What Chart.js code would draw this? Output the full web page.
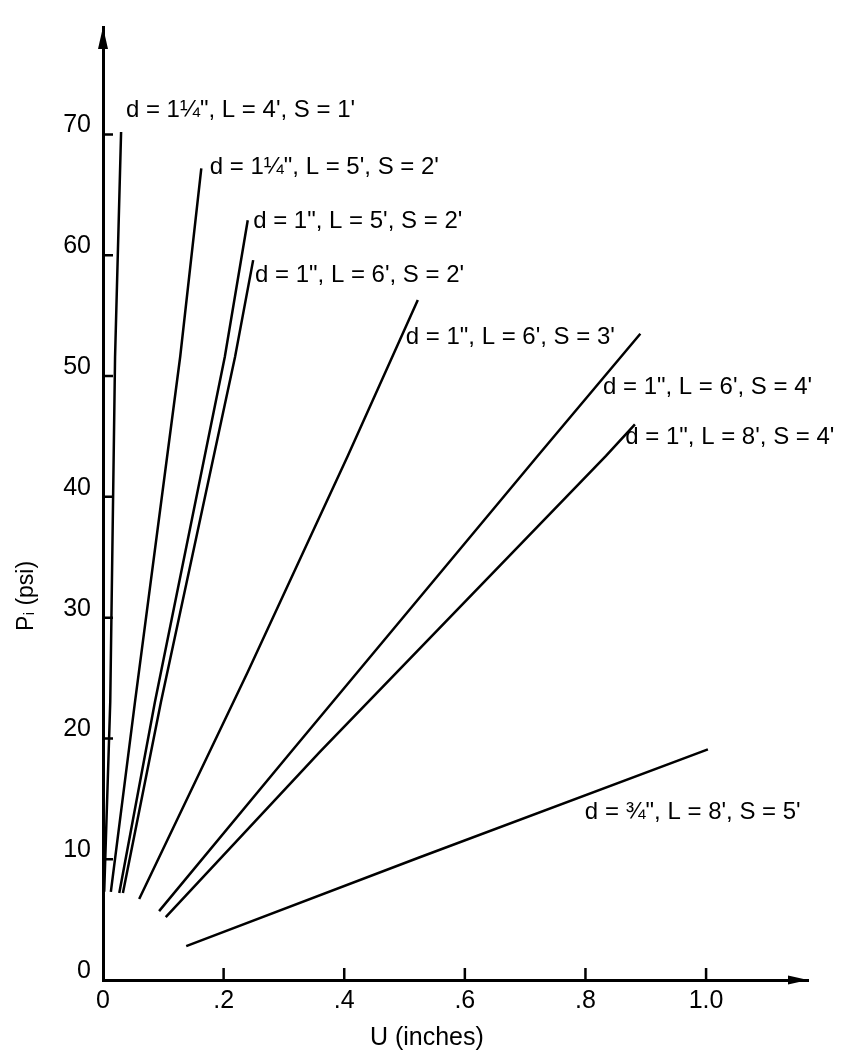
<!DOCTYPE html>
<html>
<head>
<meta charset="utf-8">
<script src="https://cdn.jsdelivr.net/npm/chart.js@4/dist/chart.umd.min.js"></script>
<style>
  html, body { margin: 0; padding: 0; background: #fff; }
  #wrap { width: 841px; height: 1052px; position: relative; }
</style>
</head>
<body>
<div id="wrap"><canvas id="c"></canvas></div>
<script>
// ---- data ----
const curveNames = [
  'd = 1¼", L = 4\', S = 1\'',
  'd = 1¼", L = 5\', S = 2\'',
  'd = 1", L = 5\', S = 2\'',
  'd = 1", L = 6\', S = 2\'',
  'd = 1", L = 6\', S = 3\'',
  'd = 1", L = 6\', S = 4\'',
  'd = 1", L = 8\', S = 4\'',
  'd = ¾", L = 8\', S = 5\''
];
// U (inches) values of each curve
const curveU = [
  [0.002, 0.012, 0.020, 0.030],
  [0.013, 0.053, 0.128, 0.163],
  [0.027, 0.086, 0.202, 0.240],
  [0.033, 0.096, 0.219, 0.249],
  [0.060, 0.240, 0.406, 0.522],
  [0.093, 0.312, 0.721, 0.891],
  [0.104, 0.360, 0.834, 0.882],
  [0.138, 0.522, 1.003]
];
// Pi (psi) values of each curve
const curveP = [
  [7.3, 23.0, 51.6, 70.2],
  [7.3, 23.0, 51.6, 67.2],
  [7.2, 23.0, 51.6, 62.9],
  [7.2, 23.0, 51.6, 59.6],
  [6.7, 25.5, 43.4, 56.3],
  [5.7, 18.9, 43.4, 53.5],
  [5.2, 18.9, 43.4, 46.0],
  [2.8, 10.1, 19.1]
];
// label anchors (left edge, vertical middle) in data units
const labelU = [0.038, 0.177, 0.249, 0.252, 0.502, 0.829, 0.866, 0.799];
const labelP = [72.0, 67.3, 62.8, 58.3, 53.2, 49.1, 44.9, 13.9];

const xTickValues = [0, 0.2, 0.4, 0.6, 0.8, 1.0];
const xTickLabels = ['0', '.2', '.4', '.6', '.8', '1.0'];
const yTickValues = [0, 10, 20, 30, 40, 50, 60, 70];
const yTickLabels = ['0', '10', '20', '30', '40', '50', '60', '70'];
const xTitle = 'U (inches)';
const yTitle = 'Pᵢ (psi)';
const xMax = 1.169;
const yMax = 78.9;

const FONT = '"Liberation Sans", Arial, sans-serif';

const datasets = curveNames.map((name, i) => ({
  label: name,
  data: curveU[i].map((u, k) => ({ x: u, y: curveP[i][k] })),
  borderColor: '#000',
  backgroundColor: '#000',
  borderWidth: 2.5,
  pointRadius: 0,
  tension: 0,
  fill: false
}));

const decor = {
  id: 'decor',
  afterDraw(chart) {
    const ctx = chart.ctx;
    const xs = chart.scales.x, ys = chart.scales.y;
    const a = chart.chartArea;
    ctx.save();
    ctx.strokeStyle = '#000';
    ctx.fillStyle = '#000';
    ctx.lineWidth = 2.5;
    ctx.lineCap = 'butt';
    // inward tick marks
    ctx.beginPath();
    yTickValues.forEach(v => {
      if (v === 0) return;
      const py = ys.getPixelForValue(v);
      ctx.moveTo(a.left, py); ctx.lineTo(a.left + 10, py);
    });
    xTickValues.forEach(v => {
      if (v === 0) return;
      const px = xs.getPixelForValue(v);
      ctx.moveTo(px, a.bottom); ctx.lineTo(px, a.bottom - 12);
    });
    ctx.stroke();
    // arrow heads
    ctx.beginPath();
    ctx.moveTo(a.left, a.top);
    ctx.lineTo(a.left - 5, a.top + 22);
    ctx.lineTo(a.left + 5, a.top + 22);
    ctx.closePath();
    ctx.fill();
    ctx.beginPath();
    ctx.moveTo(a.right, a.bottom);
    ctx.lineTo(a.right - 20, a.bottom - 4.5);
    ctx.lineTo(a.right - 20, a.bottom + 4.5);
    ctx.closePath();
    ctx.fill();
    // curve labels
    ctx.font = '24px ' + FONT;
    ctx.textAlign = 'left';
    ctx.textBaseline = 'middle';
    curveNames.forEach((t, i) => {
      ctx.fillText(t, xs.getPixelForValue(labelU[i]), ys.getPixelForValue(labelP[i]));
    });
    // axis titles
    ctx.font = '25px ' + FONT;
    ctx.textAlign = 'center';
    ctx.fillText(xTitle, xs.getPixelForValue(0.537), a.bottom + 58);
    ctx.translate(27, ys.getPixelForValue(31.8));
    ctx.rotate(-Math.PI / 2);
    ctx.font = '23px ' + FONT;
    ctx.fillText(yTitle, 0, 0);
    ctx.restore();
  }
};

new Chart(document.getElementById('c'), {
  type: 'line',
  data: { datasets },
  options: {
    responsive: true,
    maintainAspectRatio: false,
    animation: false,
    layout: { padding: { top: 13, right: 33, left: 0, bottom: 0 } },
    plugins: { legend: { display: false }, tooltip: { enabled: false } },
    scales: {
      x: {
        type: 'linear',
        min: 0, max: xMax,
        afterFit: s => { s.height = 72; },
        afterBuildTicks: s => { s.ticks = xTickValues.map(v => ({ value: v })); },
        grid: { display: false, drawTicks: false },
        border: { display: true, color: '#000', width: 3 },
        ticks: {
          color: '#000',
          font: { family: FONT, size: 25 },
          padding: 6,
          maxRotation: 0,
          autoSkip: false,
          callback: (v, i) => xTickLabels[i]
        }
      },
      y: {
        type: 'linear',
        min: 0, max: yMax,
        afterFit: s => { s.width = 103; },
        afterBuildTicks: s => { s.ticks = yTickValues.map(v => ({ value: v })); },
        grid: { display: false, drawTicks: false },
        border: { display: true, color: '#000', width: 3 },
        ticks: {
          color: '#000',
          font: { family: FONT, size: 25 },
          padding: 12,
          labelOffset: -9,
          autoSkip: false,
          callback: (v, i) => yTickLabels[i]
        }
      }
    }
  },
  plugins: [decor]
});
</script>
</body>
</html>
